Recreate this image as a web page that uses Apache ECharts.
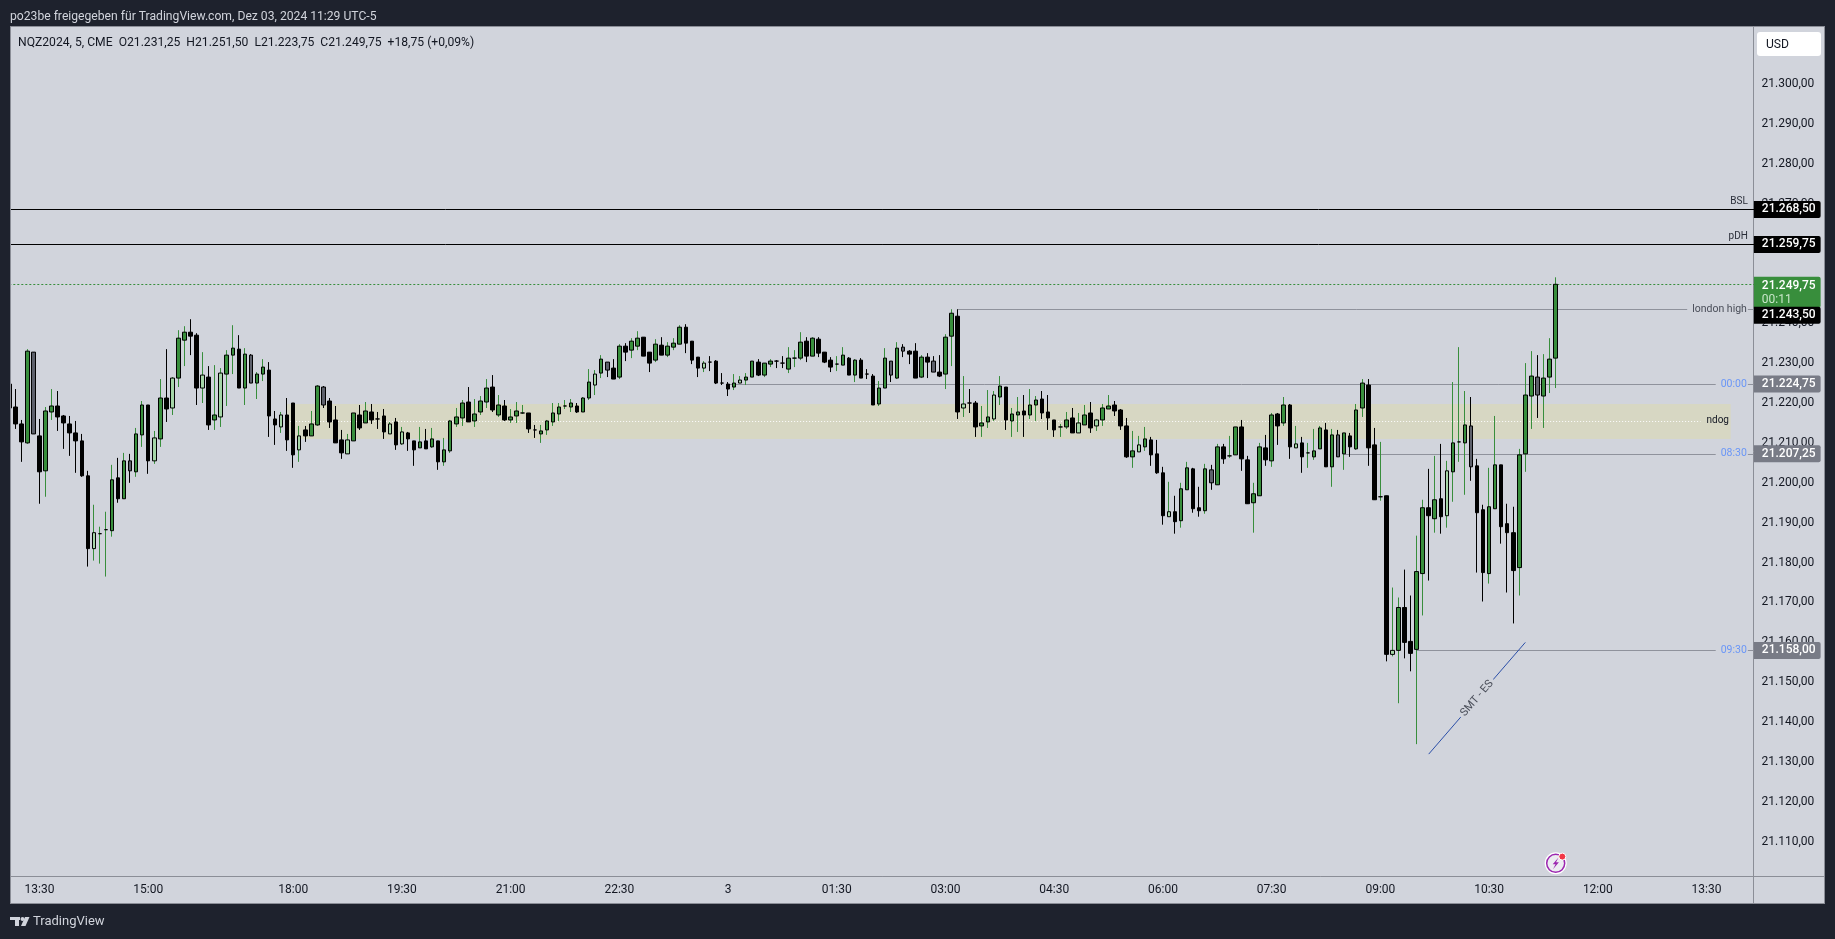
<!DOCTYPE html>
<html>
<head>
<meta charset="utf-8">
<style>html,body{margin:0;padding:0;background:#1e222d;overflow:hidden}#c{width:1835px;height:939px}</style>
<script src="https://cdn.jsdelivr.net/npm/echarts@6/dist/echarts.min.js"></script>
</head>
<body>
<div id="c"></div>
<script>
// [open, close, low, high, kind]  kind: u up, d down, l light up, g grey down
const barsPrevAfternoon = [
[21224.75,21218.75,21218.75,21224.75,'d'],[21219,21214.75,21213.5,21223.5,'d'],[21214.75,21210.25,21205.25,21215.75,'d'],[21210,21233,21209.75,21233.5,'u'],[21232.75,21212.25,21212.25,21232.75,'g'],
[21211.75,21202.75,21194.75,21216,'d'],[21203,21218,21196.5,21219,'u'],[21217.75,21219.25,21215.75,21223.5,'u'],[21219.25,21216.5,21213,21223,'d'],[21216.75,21215,21208.5,21217,'d'],
[21214.75,21212.5,21206.75,21216.75,'d'],[21212.5,21210.5,21202.5,21215.5,'d'],[21210.5,21201.75,21201.5,21212.25,'d'],[21201.75,21183.5,21179,21203,'d'],[21183.5,21187.5,21180.5,21194.5,'l'],
[21187.25,21187.25,21179.75,21189,'u'],[21188.25,21188.25,21176.5,21192.75,'u'],[21188,21200.75,21186.5,21204.5,'u'],[21201.25,21196,21195,21206.25,'d'],[21196,21205.5,21196,21207.5,'u'],
[21205.5,21203,21200,21207.25,'g'],[21202.75,21212.25,21201.5,21213.75,'u'],[21212,21219.5,21209,21220.5,'u'],[21219.5,21205.5,21202.25,21219.5,'d'],[21205.5,21211.25,21204.75,21213,'l'],
[21211,21221.25,21209,21226,'u'],[21221.25,21218.5,21215.25,21233.5,'d'],[21218.75,21226.25,21217,21226.5,'l'],[21226.25,21236.25,21224,21238.25,'u'],[21235.75,21237.75,21229.25,21239.25,'u'],
[21237.75,21236.75,21232,21241,'d'],[21237,21223.75,21219.5,21237.5,'d'],[21223.75,21227,21220,21232.75,'l'],[21226.5,21214.5,21213.25,21229.25,'d'],[21215.75,21217,21213.25,21229.5,'u'],
[21216.5,21227.5,21214,21228.75,'l'],[21227.25,21232,21219.25,21233.25,'u'],[21232,21233.75,21227.25,21239.5,'u'],[21233.5,21223.75,21223.75,21237,'d'],[21223.75,21232.25,21219.5,21233.75,'u'],
[21232,21225,21225,21232.25,'g'],[21225,21227.25,21221,21227.75,'u'],[21227.25,21229,21225.5,21231,'u'],[21228.25,21216.75,21211.5,21230.25,'d'],[21216,21214.5,21209.5,21218,'d'],
[21214,21217,21212.5,21217.75,'l'],[21217,21210.75,21208,21221.25,'d']
];
const barsEvening = [
[21220,21207,21203.75,21220,'d'],[21208.25,21211.75,21205.25,21214.25,'l'],[21213.25,21211.75,21210.25,21214.25,'d'],[21211.75,21214.75,21211.75,21218,'u'],[21214.5,21224.25,21214.25,21224.5,'u'],
[21224,21219.5,21218.75,21224.25,'g'],[21220.5,21215.25,21213.75,21221.25,'d'],[21215.75,21210,21210,21219.25,'d'],[21210.75,21207.5,21206,21213.25,'d'],[21207.25,21210.75,21207.25,21212.25,'l'],
[21210.5,21217.5,21210.5,21217.5,'u'],[21217,21213.75,21213.25,21219.5,'d'],[21215,21218,21215,21220.25,'u'],[21217.75,21215.75,21214.75,21219.75,'d'],[21216,21216,21213.5,21217.75,'d'],
[21216.75,21212.75,21211,21218.5,'d'],[21212.25,21214.75,21212.25,21215.25,'l'],[21215.25,21209.5,21208.25,21216.25,'d'],[21209.75,21212.75,21209.5,21214,'l'],[21212.5,21211,21208,21212.75,'d'],
[21210.5,21208.25,21204.25,21210.5,'d'],[21208.75,21210.25,21208.75,21214,'u'],[21210.5,21208.5,21208.5,21213.5,'d'],[21209,21211,21208.75,21213.75,'u'],[21210.5,21205.25,21203.25,21210.5,'d'],
[21205.25,21208.25,21204.25,21211.25,'u'],[21208,21215.5,21207.5,21215.75,'u'],[21214.75,21216.5,21214,21218.75,'u'],[21216.25,21220,21214.25,21220.75,'u'],[21220.25,21215.25,21215.25,21224,'d'],
[21215.5,21217.25,21214,21221,'u'],[21217.75,21220.5,21217,21221.75,'u'],[21220.25,21223.75,21218.75,21226,'u'],[21224,21218.25,21217.75,21227,'d'],[21217,21219.5,21216.5,21222,'u'],
[21219.25,21215.75,21215.5,21220.75,'d'],[21215.75,21216.5,21215,21218.5,'u'],[21216.75,21218,21215,21220.25,'u'],[21217.5,21217.5,21217.25,21219.5,'u'],[21217.5,21213.5,21212.5,21217.5,'d'],
[21213.25,21213.25,21211.25,21214.5,'d'],[21212.25,21213,21210,21214.5,'u'],[21213.25,21215.5,21212,21215.75,'u'],[21215.25,21217.5,21214.25,21220,'u'],[21217.25,21219,21215.5,21220,'u'],
[21219.25,21219.25,21218.5,21220.75,'u'],[21219,21220,21217.75,21221,'u'],[21219.25,21217.75,21217.5,21220,'d'],[21217.75,21221.25,21217.75,21221.5,'u'],[21221.25,21225.25,21220.75,21228.5,'u'],
[21224.5,21227.25,21222,21228.25,'l'],[21227.5,21231,21226.25,21232,'u'],[21230.25,21228.25,21226.5,21230.25,'g'],[21228.75,21226,21226,21231,'d'],[21226.5,21234.25,21226,21234.75,'u'],
[21234.25,21232.75,21230.5,21235,'d'],[21233.25,21235.5,21231.25,21236.25,'u'],[21234.25,21236.25,21233.25,21238,'u'],[21236.5,21231.75,21231.75,21236.5,'d'],[21232.75,21230,21227.75,21232.75,'d'],
[21230.75,21234.75,21230.25,21236,'u'],[21234.5,21232,21232,21236.5,'d'],[21232,21234.25,21231.5,21235.25,'u'],[21234,21235,21233.25,21236.25,'u'],[21234.75,21239,21234.75,21239.5,'u'],
[21239,21235,21232.5,21239.75,'d'],[21235.5,21230.75,21229.75,21235.5,'d'],[21231.5,21228.75,21226.5,21231.5,'d'],[21228.75,21230,21227.75,21230.5,'l'],[21230.25,21230.25,21228,21231.75,'d'],
[21230.5,21225,21224.75,21230.75,'d'],[21225,21225,21224.5,21227.5,'d']
];
const barsOvernight = [
[21224.75,21223.5,21221.75,21225.25,'d'],[21224,21225,21223.25,21227.25,'u'],[21225,21225.75,21225,21226.75,'l'],[21225.75,21226.5,21224.5,21227.5,'u'],[21226.5,21230.5,21226.5,21230.5,'u'],
[21230.25,21227,21226.75,21231,'d'],[21227,21230,21226.5,21230,'u'],[21229.75,21230.5,21229,21231,'u'],[21230.5,21230.5,21228.75,21230.75,'d'],[21230,21230,21228.75,21231.75,'d'],
[21228.5,21231.25,21227.5,21234,'u'],[21231.25,21231.25,21229,21233.25,'u'],[21231.25,21235.25,21230.75,21237.75,'u'],[21235.5,21231.75,21230.25,21236.5,'d'],[21231.75,21236.25,21231.75,21236.5,'u'],
[21236,21232.5,21231.5,21236.5,'d'],[21232.75,21230.25,21230,21232.75,'d'],[21230.75,21229,21227.75,21231.5,'d'],[21229.75,21229.75,21228,21231.75,'u'],[21229.5,21232,21229.5,21234,'u'],
[21231.25,21227,21227,21231.5,'d'],[21227,21230.75,21225.25,21231,'u'],[21230.75,21226.25,21226.25,21231.25,'d'],[21227.25,21227.25,21226,21228.5,'d'],[21226.75,21219.5,21219.5,21227.25,'d'],
[21219.75,21223.75,21219.25,21225.5,'u'],[21223.75,21231.25,21223.75,21233.75,'u'],[21230.5,21227,21225.25,21230.5,'g'],[21226.25,21233.75,21226,21235.25,'u'],[21234,21233,21231.5,21234.75,'g'],
[21233,21232.25,21229.75,21233.25,'d'],[21233,21226.25,21226.25,21235,'d'],[21226.5,21231.5,21226.25,21232,'u'],[21231.5,21230.25,21226.25,21232.5,'d'],[21230.5,21227.75,21227.75,21231.75,'g'],
[21227.75,21226.75,21226.5,21232,'d'],[21227.25,21236.5,21223.5,21237.25,'u'],[21236.75,21242.5,21229.25,21243.5,'u'],[21241.75,21217.75,21216,21243.5,'d'],[21218.75,21219.75,21216.5,21226.75,'l'],
[21220,21220,21217.5,21223.5,'d'],[21220,21214,21211.5,21220.5,'d'],[21214.25,21215,21211.5,21219.25,'u'],[21215.25,21216.5,21213.75,21223.25,'u'],[21216,21222,21215.5,21223,'l'],
[21221.5,21224.25,21219.5,21226.75,'u'],[21224,21215.75,21213.25,21224,'d'],[21215.5,21217.25,21211.5,21218.75,'u'],[21217,21217.75,21212.75,21221.5,'u'],[21218,21217,21211.5,21222,'d'],
[21217,21219.5,21216,21223.5,'u'],[21219.5,21220.75,21215.5,21221.75,'u'],[21221,21217.5,21216,21223,'d'],[21217.75,21216.25,21213.25,21222,'d'],[21215.75,21213.25,21211.5,21215.75,'d'],
[21214,21214,21211.5,21214.75,'u'],[21214,21215.75,21213.5,21217.75,'u'],[21216.25,21212.5,21212.5,21218.75,'d'],[21212.5,21215,21212.5,21217.5,'l'],[21214.5,21217,21214.5,21219.5,'u'],
[21217.5,21213.75,21212.5,21220.25,'d'],[21214.25,21215.75,21213,21216,'l'],[21215.75,21218.75,21214.25,21219.75,'u'],[21218.5,21219.25,21218.5,21222,'u'],[21219.5,21218,21216.75,21220.5,'d'],
[21218.25,21214.25,21213.25,21218.5,'d'],[21214.25,21206.5,21206.25,21216.25,'d'],[21206.5,21208,21203.75,21213,'u'],[21207.75,21209.5,21207.75,21211.75,'l'],[21209,21211,21208,21214,'u'],
[21210.75,21207,21204.25,21211.5,'d'],[21207.25,21202.5,21202.25,21210.75,'d']
];
const barsMorning = [
[21202.5,21191.75,21189.5,21204,'d'],[21191.5,21192.75,21191.5,21200.25,'l'],[21192.75,21190.25,21187.25,21196.75,'d'],[21190.5,21198.5,21188.75,21200,'u'],[21198.25,21203.75,21198.25,21205.25,'u'],
[21203.5,21193.5,21192.5,21203.75,'d'],[21193.75,21193,21191.5,21199,'d'],[21193,21203.5,21192.25,21204.75,'u'],[21203.25,21200,21198.25,21204.5,'g'],[21199.5,21209,21199.5,21209.75,'u'],
[21209,21206,21204.75,21209.75,'d'],[21206.75,21206.75,21206.25,21211.75,'u'],[21207,21214,21207,21214,'u'],[21214,21206,21203,21215.75,'d'],[21205.75,21194.75,21194.75,21206.75,'d'],
[21195,21197.25,21187.5,21200,'u'],[21196.75,21209,21196.75,21210,'u'],[21208.75,21205.75,21204.25,21212,'d'],[21205.5,21217,21204,21217.5,'u'],[21217.25,21214.25,21209.5,21217.5,'d'],
[21215,21219.5,21214.25,21221.5,'u'],[21219.5,21209,21206,21219.75,'d'],[21208.75,21209.75,21208.75,21214.25,'l'],[21210,21206.5,21202.5,21211.5,'d'],[21207.5,21207.5,21203.75,21210,'u'],
[21206.5,21208,21205.75,21213.5,'u'],[21208.5,21213.75,21208.5,21214.25,'u'],[21213.25,21204,21204,21215,'d'],[21204,21212,21199,21213.5,'u'],[21212,21206.5,21206.5,21213.25,'g'],
[21207.25,21212.5,21203.25,21212.5,'u'],[21211.75,21209,21206.5,21212.5,'d'],[21208.5,21218.25,21208.25,21219.75,'u'],[21218.75,21225,21216.5,21226,'u'],[21224.5,21208.75,21204.25,21226,'d'],
[21209.5,21195.75,21195.75,21213.75,'d'],[21196.5,21196.5,21195.5,21210.25,'u'],[21196.75,21157,21155.25,21196.75,'d'],[21157,21158,21156.5,21173.75,'l'],[21158,21168.75,21144.75,21171.25,'u'],
[21168.75,21160,21156,21178.25,'d'],[21160.25,21157.25,21152.75,21171.75,'d'],[21158.25,21177.75,21134.5,21186.75,'u'],[21177.25,21193.75,21166.75,21195.75,'u'],[21193.75,21191.75,21175.5,21203.5,'d'],
[21191,21195.75,21187.5,21206.75,'u'],[21196,21191.5,21187.25,21209.75,'d'],[21191.75,21203,21188.75,21205.5,'l'],[21202.75,21210,21195.25,21225.25,'u'],[21210.25,21210.25,21205.25,21234,'u'],
[21210,21214.5,21197,21223,'u'],[21214.25,21204,21200.5,21221.5,'g'],[21204.25,21192.5,21177.5,21206,'d'],[21193.25,21177.5,21170.25,21194.5,'d'],[21177.25,21194,21174.75,21203.75,'u'],
[21193.5,21204.5,21193.5,21216.75,'u'],[21204.5,21189,21184.75,21204.5,'d'],[21189.75,21187.5,21172.5,21194.75,'d'],[21187.5,21178,21164.75,21194,'d'],[21178.75,21207,21171.75,21208.5,'u'],
[21207.25,21222,21202.75,21230,'u'],[21221.75,21226.75,21213.5,21233,'u'],[21226.5,21222,21216.25,21232,'g'],[21221.75,21226.25,21213.75,21232.25,'u'],[21226.5,21231,21222.5,21236.25,'u'],
[21231.25,21249.75,21223.75,21251.5,'u']
];
const tickBars   = [5,23,47,65,83,101,119,137,155,173,191,209,227,245,263,281];
const tickLabels = ['13:30','15:00','18:00','19:30','21:00','22:30','3','01:30','03:00','04:30','06:00','07:30','09:00','10:30','12:00','13:30'];
const priceTicks = [21110,21120,21130,21140,21150,21160,21170,21180,21190,21200,21210,21220,21230,21240,21250,21260,21270,21280,21290,21300];
const bslPrice = 21268.5, pdhPrice = 21259.75, lastPrice = 21249.75, londonHigh = 21243.5, open0000 = 21224.75, open0830 = 21207.25, open0930 = 21158;
const ndogTop = 21219.75, ndogMid = 21215.5, ndogBottom = 21211;
const londonBar = 157, bar0000 = 119, bar0830 = 221, bar0930 = 233, ndogStartBar = 46, ndogEndBar = 285, ndogMidEndBar = 280;
const smtStart = [235, 21132], smtEnd = [251, 21160];
const barSlots = 290, lastSlot = barSlots - 1;

const FONT = 'Roboto, "Liberation Sans", sans-serif';
const PANE = '#d1d4dc', DARK = '#1e222d', EDGE = '#8b8e97', INK = '#131722', GREEN = '#388e3c', LIGHT = '#a5d6a7', GREY = '#5d606b';
const bars = [].concat(barsPrevAfternoon, barsEvening, barsOvernight, barsMorning);
const fillOf = {u: GREEN, d: '#000000', l: LIGHT, g: GREY};
const wickOf = {u: GREEN, d: '#000000', l: GREEN, g: '#000000'};
const fmt = v => { const s = v.toFixed(2).replace('.', ','); return s.slice(0, 2) + '.' + s.slice(2); };
const categories = Array.from({length: barSlots}, (_, i) => { const k = tickBars.indexOf(i); return k >= 0 ? tickLabels[k] : 'bar' + i; });
const allColor = c => ({color: c, color0: c, borderColor: c, borderColor0: c, borderColorDoji: c, borderWidth: 1});

const wickData = bars.map(b => ({value: [b[0], b[1], b[2], b[3]], itemStyle: allColor(wickOf[b[4]])}));
const bodyData = bars.map(b => ({
  value: [b[0], b[1], Math.min(b[0], b[1]), Math.max(b[0], b[1])],
  itemStyle: {color: fillOf[b[4]], color0: fillOf[b[4]], borderColor: '#000', borderColor0: '#000', borderColorDoji: '#000', borderWidth: 1}
}));

const solid = (color) => ({type: 'solid', width: 1, color, opacity: 1});
const noLabel = {show: false};
function level(from, price, lineStyle, label) {
  return [{coord: [from, price], lineStyle, label: label || noLabel}, {coord: [lastSlot, price]}];
}
function tag(text, bg) {
  return {show: true, position: 'end', distance: [-1, 0], formatter: text, color: '#fff', backgroundColor: bg, fontFamily: FONT,
    fontSize: 12, fontWeight: 500, lineHeight: 13, padding: [2, 5, 2, 8], borderRadius: [0, 2, 2, 0]};
}
function above(text) {
  return {show: true, position: 'insideEndTop', distance: [7, 3], formatter: text, color: '#2a2e39', fontFamily: FONT, fontSize: 10};
}
function inline(text, color) {
  return {show: true, position: 'insideEnd', distance: [7, 0], formatter: text, color, fontFamily: FONT, fontSize: 10.5, backgroundColor: PANE, padding: [0, 1, 0, 5]};
}
const hidden = {type: 'solid', opacity: 1, width: 0, color: 'rgba(0,0,0,0)'};
const lineGrey = solid('#8f929c');

const levelLines = [
  [{coord: [ndogStartBar, ndogMid], lineStyle: {type: [1, 2], width: 1, color: '#ffffff'},
    label: {show: true, position: 'end', distance: [6, 0], formatter: 'ndog', color: '#131722', fontFamily: FONT, fontSize: 10}},
   {coord: [ndogMidEndBar, ndogMid]}],
  level(0, bslPrice, solid('#000')),
  level(0, bslPrice, hidden, above('BSL')),
  level(0, bslPrice, hidden, tag(fmt(bslPrice), '#000')),
  level(0, pdhPrice, solid('#000')),
  level(0, pdhPrice, hidden, above('pDH')),
  level(0, pdhPrice, hidden, tag(fmt(pdhPrice), '#000')),
  level(0, lastPrice, {type: [2, 2], width: 1, color: GREEN}),
  level(0, lastPrice - 2, hidden, {show: true, position: 'end', distance: [-1, 0],
    formatter: '{a|' + fmt(lastPrice) + '}\n{b|00:11}', backgroundColor: GREEN, padding: [2, 5, 1, 8], borderRadius: [0, 2, 2, 0], fontFamily: FONT,
    rich: {a: {color: '#fff', fontSize: 12, fontWeight: 500, lineHeight: 14, fontFamily: FONT}, b: {color: '#c8e6c9', fontSize: 12, lineHeight: 14, fontFamily: FONT}}}),
  level(londonBar, londonHigh, lineGrey, inline('london high', '#4a4e59')),
  level(londonBar, londonHigh - 1.5, hidden, tag(fmt(londonHigh), '#000')),
  level(bar0000, open0000, lineGrey, inline('00:00', '#6a96f7')),
  level(bar0000, open0000, hidden, tag(fmt(open0000), '#787b86')),
  level(bar0830, open0830, lineGrey, inline('08:30', '#6a96f7')),
  level(bar0830, open0830, hidden, tag(fmt(open0830), '#787b86')),
  level(bar0930, open0930, lineGrey, inline('09:30', '#6a96f7')),
  level(bar0930, open0930, hidden, tag(fmt(open0930), '#787b86'))
];

const txt = (x, y, text, fill, font, extra) => Object.assign({type: 'text', x, y, z: 200, silent: true,
  style: Object.assign({text, fill, font, textVerticalAlign: 'middle', verticalAlign: 'middle'}, extra || {})});
const rect = (x, y, w, h, fill, z, r) => ({type: 'rect', z, silent: true, shape: {x, y, width: w, height: h, r: r || 0}, style: {fill}});
const uiFont = '12.15px ' + FONT;

const option = {
  animation: false,
  backgroundColor: DARK,
  textStyle: {fontFamily: FONT},
  grid: {left: 6.28, top: 27, width: 290 * 6.04, height: 849.5, containLabel: false},
  xAxis: {
    type: 'category', data: categories, boundaryGap: true,
    axisTick: {show: false}, splitLine: {show: false},
    axisLine: {show: true, lineStyle: {color: EDGE, width: 1}},
    axisLabel: {color: INK, fontSize: 12, fontFamily: FONT, margin: 7, hideOverlap: false, interval: i => tickBars.indexOf(i) >= 0}
  },
  yAxis: {
    type: 'value', position: 'right', offset: -4.38, min: 21101.328, max: 21314.236, scale: true,
    splitLine: {show: false}, axisTick: {show: false},
    axisLine: {show: true, onZero: false, lineStyle: {color: EDGE, width: 1}},
    axisLabel: {customValues: priceTicks, formatter: v => fmt(v), color: INK, fontSize: 12, fontFamily: FONT, margin: 8, showMinLabel: true, showMaxLabel: true}
  },
  series: [
    {
      name: 'levels', type: 'line', data: [], clip: false, silent: true,
      markArea: {silent: true, z: 1, itemStyle: {color: '#d7d7c3'}, data: [[{coord: [ndogStartBar, ndogTop]}, {coord: [ndogEndBar, ndogBottom]}]]},
      markLine: {silent: true, z: 1.5, symbol: ['none', 'none'], precision: 2, animation: false, data: levelLines}
    },
    {name: 'wicks', type: 'candlestick', barWidth: 1, z: 2, silent: true, data: wickData, large: false, itemStyle: {borderColorDoji: GREEN}},
    {name: 'bodies', type: 'candlestick', barWidth: 4, z: 3, silent: true, data: bodyData, large: false, itemStyle: {borderColorDoji: '#000'}},
    {
      name: 'smt', type: 'line', data: [], clip: false, silent: true,
      markLine: {silent: true, z: 4, symbol: ['none', 'none'], animation: false,
        lineStyle: {type: 'solid', width: 1, color: '#2b4fa8'},
        label: {show: true, position: 'insideMiddle', distance: [0, 0], formatter: 'SMT - ES', color: '#4a4e59', fontSize: 11, fontFamily: FONT, backgroundColor: PANE, padding: [0, 3]},
        data: [[{coord: smtStart}, {coord: smtEnd}]]}
    }
  ],
  graphic: {elements: [
    rect(10, 27, 1815, 877, PANE, -10),
    rect(0, 0, 10, 939, DARK, 100),
    rect(10, 27, 1, 877, EDGE, 101),
    rect(10, 26, 1815, 1, EDGE, 101),
    rect(10, 903, 1815, 1, EDGE, 101),
    rect(1824, 26, 1, 878, EDGE, 101),
    rect(1753, 876, 1, 27, EDGE, 101),
    rect(1757, 876, 67, 1, EDGE, 101),
    rect(1757, 32, 64, 24, '#ffffff', 102, 3),
    txt(1766, 44.5, 'USD', INK, uiFont),
    txt(10, 17, 'po23be freigegeben für TradingView.com, Dez 03, 2024 11:29 UTC-5', PANE, uiFont, {}),
    txt(18, 43, 'NQZ2024, 5, CME  O21.231,25  H21.251,50  L21.223,75  C21.249,75  +18,75 (+0,09%)', INK, uiFont, {}),
    txt(33, 922, 'TradingView', PANE, '13px ' + FONT),
    rect(10, 917, 10, 3, PANE, 101),
    rect(15, 917, 4, 9, PANE, 101),
    {type: 'circle', z: 101, silent: true, shape: {cx: 22.5, cy: 919, r: 2}, style: {fill: PANE}},
    {type: 'polygon', z: 101, silent: true, shape: {points: [[25, 917], [29.5, 917], [25.5, 926], [21, 926]]}, style: {fill: PANE}},
    {type: 'circle', z: 110, silent: true, shape: {cx: 1555.7, cy: 863.3, r: 11}, style: {fill: '#ffffff'}},
    {type: 'circle', z: 111, silent: true, shape: {cx: 1555.7, cy: 863.3, r: 9}, style: {fill: '#ececf1', stroke: '#9c27b0', lineWidth: 1.5}},
    {type: 'polygon', z: 112, silent: true, shape: {points: [[1558.5, 857.5], [1552.7, 864.3], [1555.5, 864.3], [1553, 869.3], [1558.9, 862.3], [1556, 862.3]]}, style: {fill: '#9c27b0'}},
    {type: 'circle', z: 113, silent: true, shape: {cx: 1562.3, cy: 856.6, r: 3.5}, style: {fill: '#f23645', stroke: '#ffffff', lineWidth: 1}}
  ]}
};
const chart = echarts.init(document.getElementById('c'), null, {renderer: 'canvas', width: 1835, height: 939});
chart.setOption(option);
</script>
</body>
</html>
